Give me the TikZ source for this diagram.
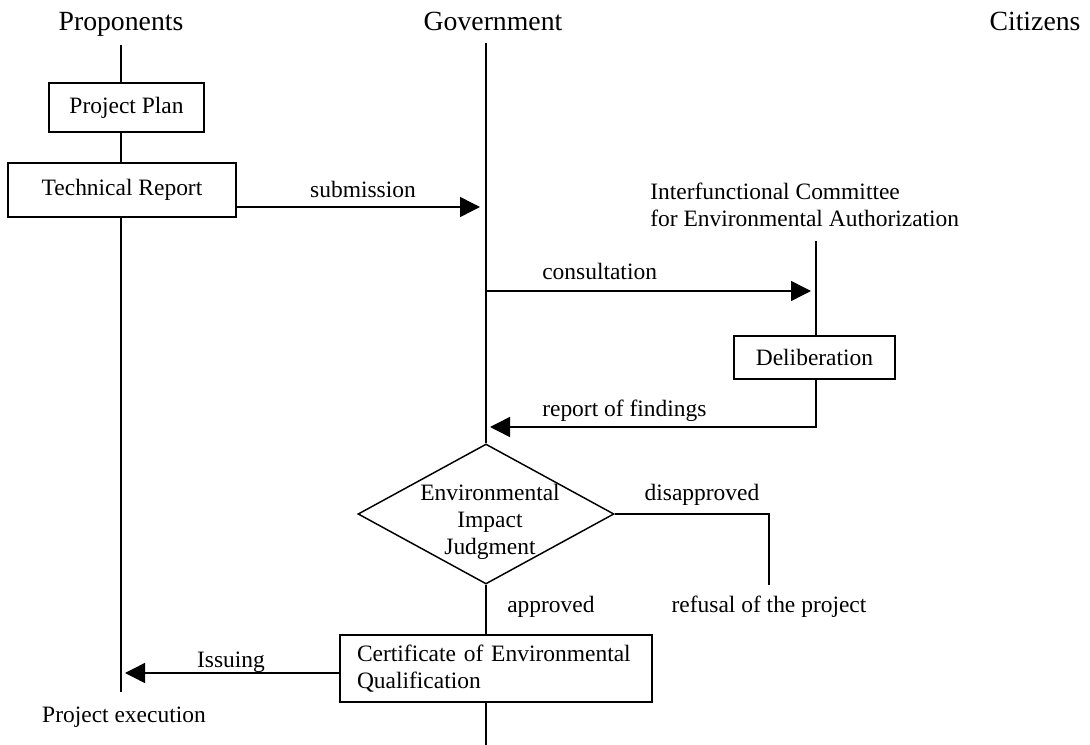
\documentclass[tikz,border=0pt]{standalone}
\usepackage{fontspec}
\setmainfont{Liberation Serif}
\usetikzlibrary{arrows.meta,shapes.geometric}
\begin{document}
\begin{tikzpicture}[x=0.75pt,y=-0.75pt,
  every node/.style={font=\fontsize{17.6}{20.3}\selectfont, inner sep=0pt},
  title/.style={font=\fontsize{20.8}{24}\selectfont, anchor=base},
  lbl/.style={anchor=base},
  box/.style={draw, line width=1.1pt, rectangle},
  ln/.style={line width=1.1pt},
  arr/.style={line width=1.1pt, -{Triangle[length=15pt,width=15pt]}},
]
\useasboundingbox (0,0) rectangle (1090,745);

% lane titles
\node[title] (propT) at (121,31) {Proponents};
\node[title] (govT) at (493,31) {Government};
\node[title] (citT) at (1035,31) {Citizens};

% lane anchors
\coordinate (p0) at (121,45);
\coordinate (pEnd) at (121,692);
\coordinate (g0) at (486,43);
\coordinate (gEnd) at (486,745);
\coordinate (c0) at (816,241);

% boxes
\node[box, minimum width=116.25pt, minimum height=36.75pt] (pp) at (126.5,107.5) {Project Plan};
\node[box, minimum width=171pt, minimum height=40.5pt] (tr) at (122,190) {Technical Report};
\node[box, minimum width=120.75pt, minimum height=32.25pt] (del) at (814.5,357.5) {Deliberation};
\node[box, minimum height=50.25pt, text width=208.5pt, inner xsep=12.75pt, align=left] (cert) at (496,668.5) {Certificate of Environmental\\Qualification};

% diamond
\node[draw, line width=1.1pt, diamond, minimum width=192pt, minimum height=105pt, inner sep=0pt] (dia) at (486,514) {};
\node[align=center] (diaT) at (490,522) {Environmental\\Impact\\Judgment};

% committee label
\node[align=left, anchor=west] (com) at (650,205) {Interfunctional Committee\\for Environmental Authorization};

% proponents lane
\draw[ln] (p0) -- (p0 |- pp.north);
\draw[ln] (pp.south -| p0) -- (tr.north -| p0);
\draw[ln] (tr.south -| p0) -- (pEnd);
\node[lbl] (exec) at (124,722) {Project execution};

% government lane
\draw[ln] (g0) -- (dia.north);
\draw[ln] (dia.south) -- (dia.south |- cert.north);
\draw[ln] (cert.south -| gEnd) -- (gEnd);

% submission
\coordinate (sub) at (236,207);
\draw[arr, shorten >=4.5pt] (tr.east |- sub) -- (sub -| g0);
\node[lbl] (subL) at (363,198) {submission};

% consultation
\coordinate (cons) at (486,291);
\draw[arr, shorten >=3.75pt] (cons) -- (cons -| c0);
\node[lbl, anchor=base west] (consL) at (542,280) {consultation};

% committee lane
\draw[ln] (c0) -- (del.north -| c0);

% report of findings
\coordinate (rep) at (816,427);
\draw[arr, shorten >=3pt] (del.south -| c0) -- (rep) -- (rep -| g0);
\node[lbl, anchor=base west] (repL) at (542,417) {report of findings};

% disapproved
\coordinate (dis) at (769,514);
\coordinate (disEnd) at (769,585);
\draw[ln] (dia.east) -- (dis) -- (disEnd);
\node[lbl] (disL) at (702,501) {disapproved};
\node[lbl] (ref) at (769,612) {refusal of the project};

% approved
\node[lbl, anchor=base west] (appL) at (507,612) {approved};

% issuing
\coordinate (iss) at (340,673);
\draw[arr, shorten >=3pt] (cert.west |- iss) -- (iss -| p0);
\node[lbl] (issL) at (231,667) {Issuing};
\end{tikzpicture}
\end{document}
